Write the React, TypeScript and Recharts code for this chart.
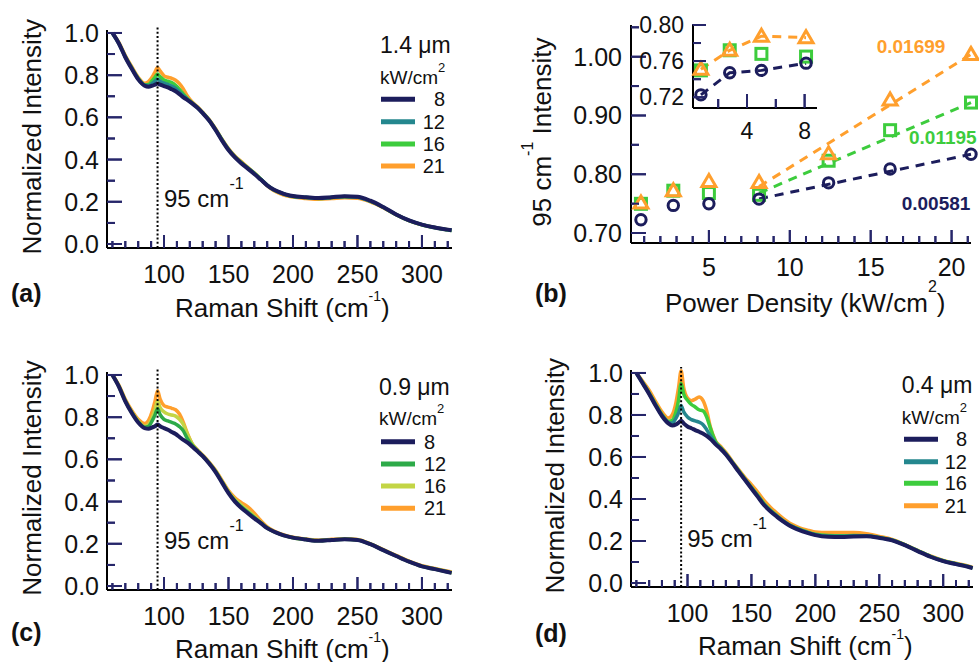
import React from 'react';
import { ComposedChart, Line, XAxis, YAxis, ReferenceLine, Scatter } from 'recharts';

const FONT = '"Liberation Sans", Arial, Helvetica, sans-serif';

// ---------- spectra data (Raman shift grid, cm^-1) ----------
const ramanShift = [60, 65, 70, 75, 80, 85, 88, 91, 93, 95, 97, 100, 103, 106, 109, 112, 115, 118, 122, 126, 130, 135, 140, 145, 150, 155, 160, 165, 170, 175, 180, 185, 190, 195, 200, 210, 220, 230, 240, 250, 260, 270, 280, 290, 300, 310, 320, 323];

// (a) 1.4 um
const a8 = [1.0, 0.95, 0.885, 0.83, 0.78, 0.75, 0.745, 0.75, 0.755, 0.76, 0.755, 0.748, 0.742, 0.733, 0.724, 0.71, 0.695, 0.683, 0.665, 0.645, 0.62, 0.585, 0.54, 0.49, 0.445, 0.41, 0.382, 0.357, 0.332, 0.305, 0.278, 0.258, 0.245, 0.234, 0.227, 0.222, 0.218, 0.222, 0.226, 0.224, 0.205, 0.175, 0.14, 0.112, 0.092, 0.078, 0.068, 0.065];
const a12 = [1.0, 0.95, 0.886, 0.832, 0.782, 0.752, 0.75, 0.762, 0.772, 0.782, 0.772, 0.762, 0.756, 0.748, 0.737, 0.72, 0.702, 0.686, 0.666, 0.646, 0.621, 0.586, 0.541, 0.492, 0.447, 0.412, 0.384, 0.359, 0.334, 0.307, 0.278, 0.257, 0.244, 0.233, 0.226, 0.221, 0.217, 0.221, 0.225, 0.222, 0.203, 0.174, 0.14, 0.112, 0.092, 0.078, 0.068, 0.066];
const a16 = [1.0, 0.951, 0.888, 0.834, 0.785, 0.755, 0.756, 0.775, 0.79, 0.805, 0.792, 0.777, 0.771, 0.765, 0.752, 0.733, 0.71, 0.69, 0.668, 0.647, 0.622, 0.587, 0.543, 0.494, 0.449, 0.414, 0.386, 0.361, 0.336, 0.308, 0.279, 0.257, 0.243, 0.232, 0.225, 0.22, 0.216, 0.22, 0.224, 0.221, 0.203, 0.174, 0.139, 0.111, 0.091, 0.077, 0.066, 0.064];
const a21 = [1.0, 0.955, 0.893, 0.84, 0.79, 0.762, 0.77, 0.793, 0.815, 0.836, 0.82, 0.797, 0.79, 0.785, 0.776, 0.76, 0.735, 0.703, 0.672, 0.65, 0.624, 0.59, 0.546, 0.496, 0.452, 0.417, 0.39, 0.363, 0.337, 0.307, 0.276, 0.253, 0.239, 0.228, 0.222, 0.216, 0.212, 0.215, 0.219, 0.217, 0.2, 0.172, 0.139, 0.111, 0.091, 0.078, 0.068, 0.066];

// (c) 0.9 um
const c8 = [1.0, 0.945, 0.875, 0.82, 0.775, 0.748, 0.745, 0.752, 0.757, 0.765, 0.757, 0.748, 0.74, 0.73, 0.72, 0.706, 0.692, 0.68, 0.66, 0.638, 0.615, 0.58, 0.54, 0.49, 0.44, 0.4, 0.37, 0.345, 0.32, 0.298, 0.274, 0.258, 0.246, 0.236, 0.229, 0.22, 0.214, 0.218, 0.222, 0.218, 0.198, 0.17, 0.142, 0.115, 0.093, 0.08, 0.066, 0.062];
const c12 = [1.0, 0.946, 0.877, 0.822, 0.778, 0.752, 0.756, 0.785, 0.81, 0.84, 0.812, 0.79, 0.782, 0.775, 0.768, 0.755, 0.735, 0.7, 0.665, 0.64, 0.616, 0.582, 0.542, 0.493, 0.443, 0.404, 0.375, 0.35, 0.325, 0.3, 0.275, 0.258, 0.246, 0.236, 0.229, 0.22, 0.214, 0.218, 0.222, 0.218, 0.198, 0.17, 0.142, 0.115, 0.093, 0.08, 0.066, 0.062];
const c16 = [1.0, 0.948, 0.879, 0.825, 0.782, 0.757, 0.765, 0.8, 0.835, 0.875, 0.845, 0.825, 0.815, 0.81, 0.805, 0.79, 0.765, 0.72, 0.672, 0.643, 0.618, 0.584, 0.545, 0.496, 0.447, 0.41, 0.382, 0.357, 0.33, 0.302, 0.276, 0.258, 0.246, 0.236, 0.229, 0.221, 0.215, 0.219, 0.223, 0.219, 0.199, 0.171, 0.143, 0.116, 0.094, 0.081, 0.068, 0.064];
const c21 = [1.0, 0.952, 0.885, 0.832, 0.79, 0.77, 0.785, 0.83, 0.875, 0.925, 0.885, 0.855, 0.848, 0.842, 0.835, 0.815, 0.775, 0.725, 0.672, 0.645, 0.62, 0.587, 0.548, 0.5, 0.452, 0.418, 0.395, 0.375, 0.345, 0.31, 0.28, 0.261, 0.248, 0.238, 0.231, 0.223, 0.217, 0.221, 0.224, 0.22, 0.2, 0.172, 0.145, 0.118, 0.096, 0.083, 0.07, 0.066];

// (d) 0.4 um
const d8 = [1.0, 0.95, 0.9, 0.845, 0.795, 0.76, 0.75, 0.755, 0.763, 0.772, 0.76, 0.745, 0.737, 0.728, 0.72, 0.712, 0.7, 0.685, 0.66, 0.638, 0.612, 0.572, 0.53, 0.49, 0.45, 0.41, 0.37, 0.34, 0.315, 0.292, 0.272, 0.258, 0.246, 0.236, 0.228, 0.22, 0.219, 0.221, 0.222, 0.215, 0.203, 0.18, 0.152, 0.125, 0.104, 0.09, 0.076, 0.071];
const d12 = [1.0, 0.952, 0.902, 0.848, 0.798, 0.765, 0.762, 0.785, 0.81, 0.845, 0.815, 0.79, 0.778, 0.772, 0.766, 0.755, 0.73, 0.7, 0.665, 0.641, 0.614, 0.574, 0.532, 0.492, 0.452, 0.413, 0.373, 0.343, 0.318, 0.294, 0.274, 0.26, 0.248, 0.238, 0.23, 0.223, 0.222, 0.224, 0.224, 0.216, 0.204, 0.181, 0.153, 0.126, 0.105, 0.091, 0.077, 0.072];
const d16 = [1.0, 0.953, 0.905, 0.852, 0.802, 0.77, 0.775, 0.815, 0.87, 0.95, 0.9, 0.87, 0.85, 0.838, 0.825, 0.82, 0.79, 0.735, 0.672, 0.644, 0.616, 0.576, 0.535, 0.495, 0.456, 0.417, 0.377, 0.346, 0.32, 0.296, 0.276, 0.262, 0.25, 0.24, 0.232, 0.226, 0.225, 0.226, 0.225, 0.217, 0.205, 0.182, 0.154, 0.127, 0.106, 0.092, 0.078, 0.072];
const d21 = [1.0, 0.96, 0.918, 0.865, 0.815, 0.785, 0.8, 0.86, 0.93, 1.01, 0.93, 0.88, 0.868, 0.875, 0.885, 0.87, 0.82, 0.74, 0.676, 0.65, 0.622, 0.58, 0.54, 0.502, 0.468, 0.432, 0.392, 0.36, 0.332, 0.306, 0.285, 0.27, 0.258, 0.25, 0.243, 0.24, 0.24, 0.24, 0.235, 0.222, 0.207, 0.183, 0.155, 0.129, 0.108, 0.094, 0.08, 0.074];

const powerLabels = ['8', '12', '16', '21'];
const thicknessLabels = ['1.4 μm', '0.9 μm', '0.4 μm'];
const peakShift = 95;

// ---------- (b) 95 cm^-1 intensity vs power density ----------
const powerDensity = [0.8, 2.8, 5.0, 8.1, 12.4, 16.2, 21.2];
const intensity14 = [0.7226, 0.747, 0.7497, 0.7577, 0.7854, 0.809, 0.834];
const intensity09 = [0.7497, 0.772, 0.768, 0.765, 0.823, 0.875, 0.922];
const intensity04 = [0.751, 0.772, 0.7876, 0.786, 0.8347, 0.9263, 1.004];
const fitRange = [8.1, 21.2];
const fit14 = [0.758, 0.834];
const fit09 = [0.768, 0.922];
const fit04 = [0.779, 1.004];
const slopeLabels = ['0.01699', '0.01195', '0.00581'];

// ---------- ticks ----------
const specXTicks = [60, 70, 80, 90, 100, 110, 120, 130, 140, 150, 160, 170, 180, 190, 200, 210, 220, 230, 240, 250, 260, 270, 280, 290, 300, 310, 320];
const specXMajor = [100, 150, 200, 250, 300];
const specYTicks = [0, 0.1, 0.2, 0.3, 0.4, 0.5, 0.6, 0.7, 0.8, 0.9, 1.0];
const specYMajor = [0, 0.2, 0.4, 0.6, 0.8, 1.0];
const bXTicks = [1, 2, 3, 4, 5, 6, 7, 8, 9, 10, 11, 12, 13, 14, 15, 16, 17, 18, 19, 20, 21];
const bXMajor = [5, 10, 15, 20];
const bYTicks = [0.7, 0.75, 0.8, 0.85, 0.9, 0.95, 1.0, 1.05];
const bYMajor = [0.7, 0.8, 0.9, 1.0];
const insetXTicks = [2, 4, 6, 8];
const insetXMajor = [4, 8];
const insetYTicks = [0.72, 0.74, 0.76, 0.78, 0.8];
const insetYMajor = [0.72, 0.76, 0.8];

const NAVY = '#1c1d5c';
const TEAL = '#24878e';
const GREEN = '#3dcc3d';
const ORANGE = '#ff9f2d';
const C_GREEN = '#2daa48';
const C_YELLOW = '#c3d545';
const INK = '#111111';
const TICK = '#26266a';

const isIn = (arr: number[], v: number) => arr.some((m) => Math.abs(m - v) < 1e-9);

function makeXTick(majors: number[], fmt: (v: number) => string, lens: [number, number], gap: number, fs: number) {
  return (p: any) => {
    const v = p.payload.value;
    const major = isIn(majors, v);
    return (
      <g>
        <line x1={p.x} x2={p.x} y1={p.y} y2={p.y - (major ? lens[0] : lens[1])} stroke={TICK} strokeWidth={2} />
        {major ? (
          <text x={p.x} y={p.y + gap} textAnchor="middle" dominantBaseline="central" fontSize={fs} fontFamily={FONT} fill={INK}>
            {fmt(v)}
          </text>
        ) : null}
      </g>
    );
  };
}

function makeYTick(majors: number[], fmt: (v: number) => string, lens: [number, number], gap: number, fs: number) {
  return (p: any) => {
    const v = p.payload.value;
    const major = isIn(majors, v);
    return (
      <g>
        <line x1={p.x} x2={p.x + (major ? lens[0] : lens[1])} y1={p.y} y2={p.y} stroke={TICK} strokeWidth={2} />
        {major ? (
          <text x={p.x - gap} y={p.y} textAnchor="end" dominantBaseline="central" fontSize={fs} fontFamily={FONT} fill={INK}>
            {fmt(v)}
          </text>
        ) : null}
      </g>
    );
  };
}

const specXTick = makeXTick(specXMajor, (v) => String(v), [13, 7], 26, 25);
const specYTick = makeYTick(specYMajor, (v) => v.toFixed(1), [15, 8], 8, 25);
const bXTick = makeXTick(bXMajor, (v) => String(v), [13, 7], 24, 25);
const bYTick = makeYTick(bYMajor, (v) => v.toFixed(2), [15, 8], 9, 25);
const inXTick = makeXTick(insetXMajor, (v) => String(v), [14, 9], 23, 23);
const inYTick = makeYTick(insetYMajor, (v) => v.toFixed(2), [13, 8], 9, 23);

const axisLine = { stroke: '#000', strokeWidth: 2 };

type TickSpec = {
  xTicks: number[];
  xMajor: number[];
  yTicks: number[];
  yMajor: number[];
  x0: number;
  y0: number;
  xLen: [number, number];
  yLen: [number, number];
};

function xComb(s: TickSpec) {
  const out: { x: number; y: number }[] = [];
  s.xTicks.forEach((v) => {
    const L = isIn(s.xMajor, v) ? s.xLen[0] : s.xLen[1];
    out.push({ x: v, y: s.y0 }, { x: v, y: s.y0 + L }, { x: v, y: s.y0 });
  });
  return out;
}

function yComb(s: TickSpec) {
  const out: { x: number; y: number }[] = [];
  s.yTicks.forEach((v) => {
    const L = isIn(s.yMajor, v) ? s.yLen[0] : s.yLen[1];
    out.push({ x: s.x0, y: v }, { x: s.x0 + L, y: v }, { x: s.x0, y: v });
  });
  return out;
}

const SPEC_X = [55.8, 323.3];
const SPEC_Y = [-0.019, 1.014];

const specTicks: TickSpec = {
  xTicks: specXTicks,
  xMajor: specXMajor,
  yTicks: specYTicks,
  yMajor: specYMajor,
  x0: SPEC_X[0],
  y0: SPEC_Y[0],
  xLen: [0.062, 0.033],
  yLen: [11.6, 6.2],
};

type SpecProps = {
  left: number;
  top: number;
  width: number;
  height: number;
  margin: { top: number; right: number; bottom: number; left: number };
  series: number[][];
  colors: string[];
};

function SpectrumPanel({ left, top, width, height, margin, series, colors }: SpecProps) {
  const sd = series.map((s) => ramanShift.map((x, i) => ({ x, y: s[i] })));
  return (
    <div style={{ position: 'absolute', left, top }}>
      <ComposedChart width={width} height={height} margin={margin}>
        <XAxis type="number" dataKey="x" domain={SPEC_X} ticks={specXTicks} interval={0} tickSize={0} tickMargin={0} tick={specXTick} tickLine={false} axisLine={axisLine} height={40} />
        <YAxis type="number" dataKey="y" domain={SPEC_Y} ticks={specYTicks} interval={0} tickSize={0} tickMargin={0} tick={specYTick} tickLine={false} axisLine={axisLine} width={60} />
        <Line data={xComb(specTicks)} dataKey="y" type="linear" stroke={TICK} strokeWidth={2} dot={false} isAnimationActive={false} />
        <Line data={yComb(specTicks)} dataKey="y" type="linear" stroke={TICK} strokeWidth={2} dot={false} isAnimationActive={false} />
        <Line data={sd[3]} dataKey="y" type="monotone" stroke={colors[3]} strokeWidth={3.5} dot={false} isAnimationActive={false} />
        <Line data={sd[2]} dataKey="y" type="monotone" stroke={colors[2]} strokeWidth={3.5} dot={false} isAnimationActive={false} />
        <Line data={sd[1]} dataKey="y" type="monotone" stroke={colors[1]} strokeWidth={3.5} dot={false} isAnimationActive={false} />
        <Line data={sd[0]} dataKey="y" type="monotone" stroke={colors[0]} strokeWidth={4} dot={false} isAnimationActive={false} />
        <ReferenceLine segment={[{ x: peakShift, y: SPEC_Y[0] }, { x: peakShift, y: 1.028 }]} stroke="#000" strokeWidth={2} strokeDasharray="2 2.2" ifOverflow="visible" />
      </ComposedChart>
    </div>
  );
}

const circleShape = (c: string) => (p: any) => <circle cx={p.cx} cy={p.cy} r={5.2} fill="none" stroke={c} strokeWidth={3} />;
const squareShape = (c: string) => (p: any) => <rect x={p.cx - 5.5} y={p.cy - 5.5} width={11} height={11} fill="none" stroke={c} strokeWidth={3} />;
const triShape = (c: string) => (p: any) => (
  <polygon points={`${p.cx},${p.cy - 7} ${p.cx - 7},${p.cy + 5} ${p.cx + 7},${p.cy + 5}`} fill="none" stroke={c} strokeWidth={3} strokeLinejoin="miter" />
);

const pts = (ys: number[], n?: number) => powerDensity.slice(0, n ?? powerDensity.length).map((x, i) => ({ x, y: ys[i] }));
const fitPts = (ys: number[]) => fitRange.map((x, i) => ({ x, y: ys[i] }));

const B_X = [0.185, 21.2];
const B_Y = [0.683, 1.054];
const IN_X = [0.25, 8.86];
const IN_Y = [0.708, 0.8];
const mainTicks: TickSpec = { xTicks: bXTicks, xMajor: bXMajor, yTicks: bYTicks, yMajor: bYMajor, x0: B_X[0], y0: B_Y[0], xLen: [0.0221, 0.0119], yLen: [0.926, 0.494] };
const insetTicks: TickSpec = { xTicks: insetXTicks, xMajor: insetXMajor, yTicks: insetYTicks, yMajor: insetYMajor, x0: IN_X[0], y0: IN_Y[0], xLen: [0.0155, 0.01], yLen: [0.9, 0.555] };

function PanelB() {
  const dash = '9 7';
  return (
    <>
      <div style={{ position: 'absolute', left: 480, top: 0 }}>
        <ComposedChart width={499} height={320} margin={{ top: 25, right: 8, bottom: 37, left: 91 }}>
          <XAxis type="number" dataKey="x" domain={B_X} ticks={bXTicks} interval={0} tickSize={0} tickMargin={0} tick={bXTick} tickLine={false} axisLine={axisLine} height={40} />
          <YAxis type="number" dataKey="y" domain={B_Y} ticks={bYTicks} interval={0} tickSize={0} tickMargin={0} tick={bYTick} tickLine={false} axisLine={axisLine} width={60} />
          <Line data={xComb(mainTicks)} dataKey="y" type="linear" stroke={TICK} strokeWidth={2} dot={false} isAnimationActive={false} />
          <Line data={yComb(mainTicks)} dataKey="y" type="linear" stroke={TICK} strokeWidth={2} dot={false} isAnimationActive={false} />
          <Line data={fitPts(fit14)} dataKey="y" type="linear" stroke={NAVY} strokeWidth={3} strokeDasharray={dash} dot={false} isAnimationActive={false} />
          <Line data={fitPts(fit09)} dataKey="y" type="linear" stroke={GREEN} strokeWidth={3} strokeDasharray={dash} dot={false} isAnimationActive={false} />
          <Line data={fitPts(fit04)} dataKey="y" type="linear" stroke={ORANGE} strokeWidth={3} strokeDasharray={dash} dot={false} isAnimationActive={false} />
          <Scatter data={pts(intensity09)} fill={GREEN} shape={squareShape(GREEN)} isAnimationActive={false} />
          <Scatter data={pts(intensity04)} fill={ORANGE} shape={triShape(ORANGE)} isAnimationActive={false} />
          <Scatter data={pts(intensity14)} fill={NAVY} shape={circleShape(NAVY)} isAnimationActive={false} />
        </ComposedChart>
      </div>
      <div style={{ position: 'absolute', left: 600, top: 0 }}>
        <ComposedChart width={240} height={150} margin={{ top: 25, right: 23, bottom: 12, left: 33 }}>
          <XAxis type="number" dataKey="x" domain={IN_X} ticks={insetXTicks} interval={0} tickSize={0} tickMargin={0} tick={inXTick} tickLine={false} axisLine={axisLine} height={30} />
          <YAxis type="number" dataKey="y" domain={IN_Y} ticks={insetYTicks} interval={0} tickSize={0} tickMargin={0} tick={inYTick} tickLine={false} axisLine={axisLine} width={60} />
          <Line data={xComb(insetTicks)} dataKey="y" type="linear" stroke={TICK} strokeWidth={2} dot={false} isAnimationActive={false} />
          <Line data={yComb(insetTicks)} dataKey="y" type="linear" stroke={TICK} strokeWidth={2} dot={false} isAnimationActive={false} />
          <Line data={pts(intensity04, 4)} dataKey="y" type="linear" stroke={ORANGE} strokeWidth={3} strokeDasharray={dash} dot={false} isAnimationActive={false} />
          <Line data={pts(intensity14, 4)} dataKey="y" type="linear" stroke={NAVY} strokeWidth={3} strokeDasharray={dash} dot={false} isAnimationActive={false} />
          <Scatter data={pts(intensity09, 4)} fill={GREEN} shape={squareShape(GREEN)} isAnimationActive={false} />
          <Scatter data={pts(intensity04, 4)} fill={ORANGE} shape={triShape(ORANGE)} isAnimationActive={false} />
          <Scatter data={pts(intensity14, 4)} fill={NAVY} shape={circleShape(NAVY)} isAnimationActive={false} />
        </ComposedChart>
      </div>
    </>
  );
}

function RamanTitle({ x, y }: { x: number; y: number }) {
  return (
    <text x={x} y={y} fontSize={26} fontFamily={FONT} fill={INK}>
      Raman Shift (cm<tspan fontSize={14} dy={-16}>-1</tspan>
      <tspan fontSize={26} dy={16}>)</tspan>
    </text>
  );
}

function NormTitle({ cx, cy }: { cx: number; cy: number }) {
  return (
    <text x={cx} y={cy} transform={`rotate(-90 ${cx} ${cy})`} textAnchor="middle" dominantBaseline="central" fontSize={26} fontFamily={FONT} fill={INK}>
      Normalized Intensity
    </text>
  );
}

function PeakLabel({ x, cy }: { x: number; cy: number }) {
  return (
    <text x={x} y={cy + 8.6} fontSize={24} fontFamily={FONT} fill={INK}>
      {peakShift} cm<tspan fontSize={16} dy={-18}>-1</tspan>
    </text>
  );
}

function PanelLetter({ x, cy, t }: { x: number; cy: number; t: string }) {
  return (
    <text x={x} y={cy} dominantBaseline="central" fontSize={25} fontWeight="bold" fontFamily={FONT} fill={INK}>
      {t}
    </text>
  );
}

type LegendProps = {
  x: number;
  titleY: number;
  unitY: number;
  rows: number[];
  lineX: [number, number];
  numX: number;
  numAnchor: 'start' | 'end';
  colors: string[];
  title: string;
};

function SpecLegend({ x, titleY, unitY, rows, lineX, numX, numAnchor, colors, title }: LegendProps) {
  return (
    <g fontFamily={FONT} fill={INK}>
      <text x={x} y={titleY} dominantBaseline="central" fontSize={23}>
        {title}
      </text>
      <text x={x} y={unitY + 6.8} fontSize={19}>
        kW/cm<tspan fontSize={13} dy={-12}>2</tspan>
      </text>
      {rows.map((ry, i) => (
        <g key={i}>
          <line x1={lineX[0]} x2={lineX[1]} y1={ry} y2={ry} stroke={colors[i]} strokeWidth={5} />
          <text x={numX} y={ry} textAnchor={numAnchor} dominantBaseline="central" fontSize={20}>
            {powerLabels[i]}
          </text>
        </g>
      ))}
    </g>
  );
}

function TextLayer() {
  const colsA = [NAVY, TEAL, GREEN, ORANGE];
  const colsC = [NAVY, C_GREEN, C_YELLOW, ORANGE];
  return (
    <svg width={979} height={662} style={{ position: 'absolute', left: 0, top: 0 }}>
      <NormTitle cx={31.7} cy={136.7} />
      <RamanTitle x={175} y={316.7} />
      <PanelLetter x={11} cy={293.3} t="(a)" />
      <PeakLabel x={164} cy={198} />
      <SpecLegend x={380} titleY={45} unitY={76.7} rows={[99.3, 121.7, 144, 166]} lineX={[381, 415]} numX={445} numAnchor="end" colors={colsA} title={thicknessLabels[0]} />

      <NormTitle cx={31.7} cy={478} />
      <RamanTitle x={175} y={657.5} />
      <PanelLetter x={11} cy={631.7} t="(c)" />
      <PeakLabel x={164} cy={540} />
      <SpecLegend x={379} titleY={386.7} unitY={418.3} rows={[441.7, 464, 486, 508.3]} lineX={[381, 415]} numX={424} numAnchor="start" colors={colsC} title={thicknessLabels[1]} />

      <NormTitle cx={555} cy={475.7} />
      <RamanTitle x={698} y={655} />
      <PanelLetter x={535} cy={633.3} t="(d)" />
      <PeakLabel x={687.3} cy={538.3} />
      <SpecLegend x={901.7} titleY={385} unitY={416.7} rows={[439.3, 461.7, 483.3, 505.7]} lineX={[904, 938]} numX={967} numAnchor="end" colors={colsA} title={thicknessLabels[2]} />

      <text x={551} y={226.7} transform={`rotate(-90 551 226.7)`} fontSize={26} fontFamily={FONT} fill={INK}>
        95 cm<tspan fontSize={16} dy={-18}>-1</tspan>
        <tspan fontSize={26} dy={18}> Intensity</tspan>
      </text>
      <text x={665} y={311.7} fontSize={26} fontFamily={FONT} fill={INK}>
        Power Density (kW/cm<tspan fontSize={16} dy={-20}>2</tspan>
        <tspan fontSize={26} dy={20}>)</tspan>
      </text>
      <PanelLetter x={535} cy={293.3} t="(b)" />
      <text x={876.7} y={46.7} dominantBaseline="central" fontSize={19} fontWeight="bold" fontFamily={FONT} fill={ORANGE}>
        {slopeLabels[0]}
      </text>
      <text x={909} y={137.7} dominantBaseline="central" fontSize={19} fontWeight="bold" fontFamily={FONT} fill={GREEN}>
        {slopeLabels[1]}
      </text>
      <text x={901.7} y={203.3} dominantBaseline="central" fontSize={19} fontWeight="bold" fontFamily={FONT} fill={NAVY}>
        {slopeLabels[2]}
      </text>
    </svg>
  );
}

export default function App() {
  return (
    <div style={{ position: 'absolute', left: 0, top: 0, width: 979, height: 662, background: '#fff' }}>
      <TextLayer />
      <SpectrumPanel left={0} top={0} width={470} height={320} margin={{ top: 30, right: 18, bottom: 32, left: 47 }} series={[a8, a12, a16, a21]} colors={[NAVY, TEAL, GREEN, ORANGE]} />
      <SpectrumPanel left={0} top={320} width={470} height={342} margin={{ top: 52, right: 18, bottom: 32, left: 47 }} series={[c8, c12, c16, c21]} colors={[NAVY, C_GREEN, C_YELLOW, ORANGE]} />
      <SpectrumPanel left={480} top={320} width={499} height={342} margin={{ top: 50, right: 6, bottom: 35, left: 91 }} series={[d8, d12, d16, d21]} colors={[NAVY, TEAL, GREEN, ORANGE]} />
      <PanelB />
    </div>
  );
}
